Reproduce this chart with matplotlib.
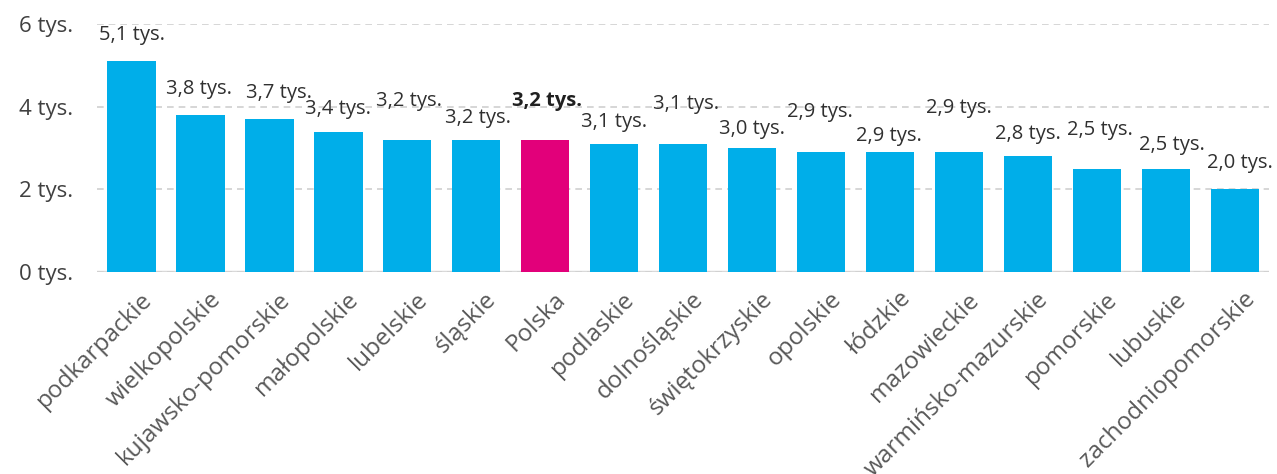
import matplotlib

matplotlib.use("Agg")
import matplotlib.pyplot as plt
import matplotlib.transforms as mtransforms

# Data (values in thousands)
regions = [
    "podkarpackie", "wielkopolskie", "kujawsko-pomorskie", "małopolskie",
    "lubelskie", "śląskie", "Polska", "podlaskie", "dolnośląskie",
    "świętokrzyskie", "opolskie", "łódzkie", "mazowieckie",
    "warmińsko-mazurskie", "pomorskie", "lubuskie", "zachodniopomorskie",
]
values = [5.1, 3.8, 3.7, 3.4, 3.2, 3.2, 3.2, 3.1, 3.1,
          3.0, 2.9, 2.9, 2.9, 2.8, 2.5, 2.5, 2.0]
highlight = "Polska"
yticks = [0, 2, 4, 6]

# Label placement (points above bar top / sideways), staggered as in the original
label_lift = [19, 19, 19, 16, 28, 16, 28, 16, 29, 14, 29, 12, 32, 16, 28, 17, 19]
label_dx = [0, -1, 7, 0, 1, 1, 1, 0, 2, 0, -1, -1, 0, 0, 2, 4, 4]

BLUE = "#00aee9"
MAGENTA = "#e2007a"
TEXT = "#404040"
FONT = ["Open Sans", "DejaVu Sans"]

fig = plt.figure(figsize=(12.77, 4.74), dpi=100)
ax = fig.add_axes([0.076, 0.426, 0.918, 0.523])

x = list(range(len(regions)))
colors = [MAGENTA if r == highlight else BLUE for r in regions]
ax.bar(x, values, width=0.7, color=colors, zorder=2)

for i, v in enumerate(values):
    txt = f"{v:.1f}".replace(".", ",") + " tys."
    ax.annotate(
        txt, (i, v), xytext=(label_dx[i], label_lift[i]),
        textcoords="offset points", ha="center", va="center",
        fontsize=14.5, color="#303030" if regions[i] != highlight else "#202020",
        fontweight="bold" if regions[i] == highlight else "normal",
        family=FONT, zorder=3,
    )

ax.set_xlim(-0.5, len(regions) - 0.5)
ax.set_ylim(0, 6)
ax.set_yticks(yticks)
ax.set_yticklabels([f"{t} tys." for t in yticks], family=FONT, fontsize=16, color=TEXT)
ax.tick_params(axis="y", length=0, pad=17)
ax.grid(axis="y", color="#d0d0d0", linestyle=(0, (4, 3)), linewidth=1.2, zorder=0)
ax.axhline(0, color="#d9d9d9", linewidth=2.5, zorder=1)

ax.set_xticks(x)
ax.set_xticklabels(regions, rotation=45, ha="right", rotation_mode="anchor",
                   family=FONT, fontsize=17.5, color="#595959")
ax.tick_params(axis="x", length=0, pad=11)
shift = mtransforms.ScaledTranslation(6 / 72, 0, fig.dpi_scale_trans)
for lab in ax.get_xticklabels():
    lab.set_transform(lab.get_transform() + shift)

for spine in ax.spines.values():
    spine.set_visible(False)

fig.savefig("out.png", dpi=100)
